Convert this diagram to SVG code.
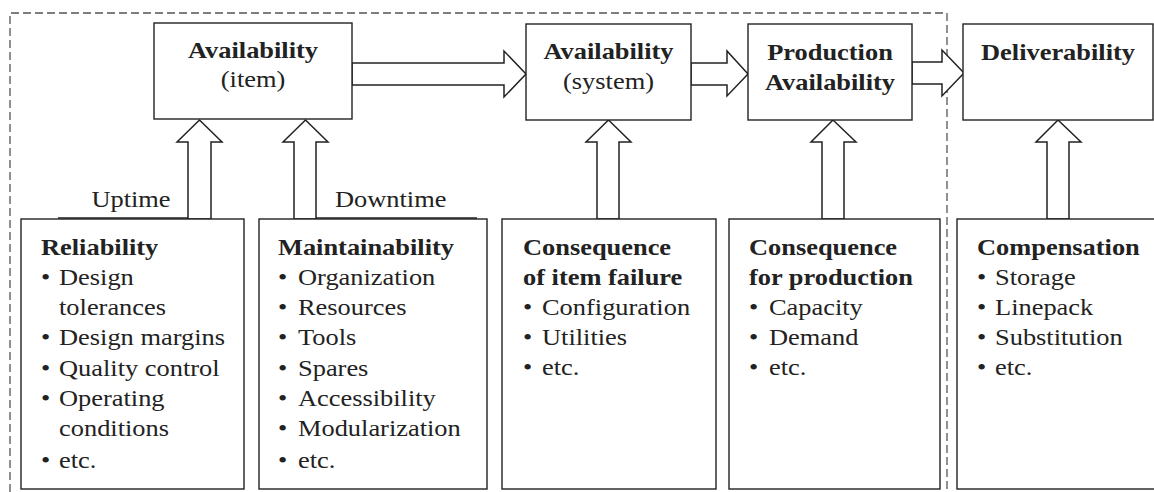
<svg xmlns="http://www.w3.org/2000/svg" width="1154" height="492" viewBox="0 0 1154 492">
<style>
.box{fill:#fff;stroke:#222;stroke-width:1.4}
.arr{fill:#fff;stroke:#222;stroke-width:1.5;stroke-linejoin:miter}
.dash{fill:none;stroke:#555;stroke-width:1.3;stroke-dasharray:8 4}
.ln{stroke:#222;stroke-width:1.4}
text{font-family:"Liberation Serif","Times New Roman",serif;font-size:24px;fill:#222}
.b{font-weight:bold}
.m{text-anchor:middle}
</style>
<rect width="1154" height="492" fill="#fff"/>
<path class="dash" d="M10,492 V13 H947 V492"/>

<g id="connectors">
<polygon class="arr" points="352,63 504,63 504,51 526,74 504,97 504,85 352,85"/>
<polygon class="arr" points="691,63 727,63 727,51 748,74 727,96 727,85 691,85"/>
<polygon class="arr" points="912,62 942,62 942,50 964,73 942,96 942,84 912,84"/>
<polygon class="arr" points="188,219 188,142 177,142 199.5,120 222,142 211,142 211,219"/>
<polygon class="arr" points="294,219 294,142 283,142 305.5,120 328,142 316,142 316,219"/>
<polygon class="arr" points="597,219 597,142 586,142 608.5,120 631,142 619,142 619,219"/>
<polygon class="arr" points="822,219 822,142 811,142 833,120 856,142 844,142 844,219"/>
<polygon class="arr" points="1047,219 1047,142 1036,142 1058,120 1081,142 1069,142 1069,219"/>
<line class="ln" x1="58" y1="218" x2="188" y2="218"/>
<line class="ln" x1="316" y1="218" x2="477" y2="218"/>
<text transform="translate(131 207) scale(1.1 1)" class="m">Uptime</text>
<text transform="translate(335 207) scale(1.1 1)">Downtime</text>
</g>

<g id="avail-item">
<rect class="box" x="154" y="23" width="198" height="96"/>
<g transform="translate(253 0) scale(1.1 1)">
<text class="b m" y="58">Availability</text>
<text class="m" y="87">(item)</text>
</g>
</g>

<g id="avail-system">
<rect class="box" x="526" y="24" width="165" height="96"/>
<g transform="translate(608.5 0) scale(1.1 1)">
<text class="b m" y="59">Availability</text>
<text class="m" y="89">(system)</text>
</g>
</g>

<g id="prod-avail">
<rect class="box" x="748" y="24" width="164" height="96"/>
<g transform="translate(830 0) scale(1.1 1)">
<text class="b m" y="60">Production</text>
<text class="b m" y="90">Availability</text>
</g>
</g>

<g id="deliverability">
<rect class="box" x="963" y="24" width="190" height="96"/>
<g transform="translate(1058 0) scale(1.1 1)">
<text class="b m" y="60">Deliverability</text>
</g>
</g>

<g id="reliability">
<rect class="box" x="21" y="219" width="223" height="270"/>
<g transform="translate(41 0) scale(1.1 1)">
<text class="b" y="255">Reliability</text>
<text y="285.5">•</text><text x="16.4" y="285.5">Design</text>
<text x="16.4" y="315.5">tolerances</text>
<text y="345.5">•</text><text x="16.4" y="345.5">Design margins</text>
<text y="376">•</text><text x="16.4" y="376">Quality control</text>
<text y="406">•</text><text x="16.4" y="406">Operating</text>
<text x="16.4" y="436.5">conditions</text>
<text y="468">•</text><text x="16.4" y="468">etc.</text>
</g>
</g>

<g id="maintainability">
<rect class="box" x="259" y="219" width="228" height="270"/>
<g transform="translate(278 0) scale(1.1 1)">
<text class="b" y="255">Maintainability</text>
<text y="285.5">•</text><text x="18.2" y="285.5">Organization</text>
<text y="315.5">•</text><text x="18.2" y="315.5">Resources</text>
<text y="345.5">•</text><text x="18.2" y="345.5">Tools</text>
<text y="376">•</text><text x="18.2" y="376">Spares</text>
<text y="406">•</text><text x="18.2" y="406">Accessibility</text>
<text y="436.5">•</text><text x="18.2" y="436.5">Modularization</text>
<text y="468">•</text><text x="18.2" y="468">etc.</text>
</g>
</g>

<g id="consequence-item">
<rect class="box" x="502" y="219" width="214" height="270"/>
<g transform="translate(523 0) scale(1.1 1)">
<text class="b" y="255">Consequence</text>
<text class="b" y="285">of item failure</text>
<text y="315">•</text><text x="17.3" y="315">Configuration</text>
<text y="345">•</text><text x="17.3" y="345">Utilities</text>
<text y="375">•</text><text x="17.3" y="375">etc.</text>
</g>
</g>

<g id="consequence-production">
<rect class="box" x="729" y="219" width="211" height="270"/>
<g transform="translate(749 0) scale(1.1 1)">
<text class="b" y="255">Consequence</text>
<text class="b" y="285">for production</text>
<text y="315">•</text><text x="18.2" y="315">Capacity</text>
<text y="345">•</text><text x="18.2" y="345">Demand</text>
<text y="375">•</text><text x="18.2" y="375">etc.</text>
</g>
</g>

<g id="compensation">
<rect class="box" x="957" y="219" width="210" height="270"/>
<g transform="translate(977 0) scale(1.1 1)">
<text class="b" y="255">Compensation</text>
<text y="285">•</text><text x="16.4" y="285">Storage</text>
<text y="315">•</text><text x="16.4" y="315">Linepack</text>
<text y="345">•</text><text x="16.4" y="345">Substitution</text>
<text y="375">•</text><text x="16.4" y="375">etc.</text>
</g>
</g>
</svg>
